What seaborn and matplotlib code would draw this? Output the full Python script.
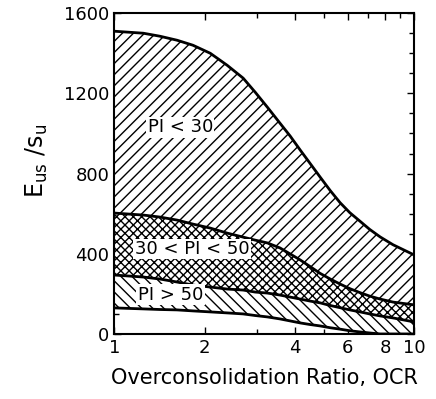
"""Undrained modulus ratio vs overconsolidation ratio, banded by plasticity index."""

import matplotlib

matplotlib.use("Agg")
import matplotlib.pyplot as plt
from matplotlib.ticker import FixedLocator, MultipleLocator, NullFormatter
import pandas as pd
import seaborn as sns

# values
ocr = [1.0, 1.25, 1.42, 1.62, 1.83, 2.09, 2.38, 2.69, 2.95, 3.24, 3.57, 3.86,
       4.17, 4.5, 4.86, 5.25, 5.66, 6.1, 6.6, 7.1, 7.7, 8.5, 10.0]
curve_top = [1510, 1500, 1485, 1465, 1440, 1400, 1340, 1276, 1206, 1131, 1051, 987,
             917, 850, 782, 715, 655, 605, 562, 522, 484, 445, 394]
curve_pi30 = [603, 593, 583, 568, 548, 528, 503, 483, 468, 454, 429, 399,
              369, 336, 302, 274, 249, 226, 206, 189, 174, 159, 145]
curve_pi50 = [294, 284, 274, 259, 244, 234, 224, 219, 209, 204, 194, 184,
              174, 164, 155, 142, 131, 120, 110, 100, 90, 80, 60]
curve_bottom = [130, 125, 122, 120, 115, 110, 105, 100, 92, 85, 75, 65,
                55, 47, 40, 31, 24, 16, 10, 5, 0, 0, 0]

x_tick_values = [1, 2, 4, 6, 8, 10]
x_tick_labels = ["1", "2", "4", "6", "8", "10"]
y_tick_values = [0, 400, 800, 1200, 1600]

band_labels = ["PI < 30", "30 < PI < 50", "PI > 50"]
band_label_pos = [(1.66, 1030), (1.82, 424), (1.54, 196)]

sns.set_style("ticks")
plt.rcParams["font.family"] = ["DejaVu Sans"]
plt.rcParams["hatch.linewidth"] = 1.0
plt.rcParams["xtick.direction"] = "in"
plt.rcParams["ytick.direction"] = "in"
for key in ("text.color", "axes.labelcolor", "xtick.color", "ytick.color", "axes.edgecolor"):
    plt.rcParams[key] = "black"

fig, ax = plt.subplots(figsize=(4.36, 3.99), dpi=100)
fig.subplots_adjust(left=0.262, right=0.950, bottom=0.163, top=0.967)

bands = [
    (curve_pi30, curve_top, "///"),
    (curve_pi50, curve_pi30, "xxxx"),
    (curve_bottom, curve_pi50, "\\\\\\"),
]
for lower, upper, hatch in bands:
    ax.fill_between(
        ocr, lower, upper, facecolor="white", edgecolor="black", hatch=hatch, linewidth=0
    )

curves = pd.DataFrame(
    {
        "OCR": ocr * 4,
        "ratio": curve_top + curve_pi30 + curve_pi50 + curve_bottom,
        "curve": ["top"] * len(ocr) + ["pi30"] * len(ocr) + ["pi50"] * len(ocr)
        + ["bottom"] * len(ocr),
    }
)
sns.lineplot(
    data=curves,
    x="OCR",
    y="ratio",
    units="curve",
    estimator=None,
    color="black",
    linewidth=2.0,
    ax=ax,
    legend=False,
)

for text, (x, y) in zip(band_labels, band_label_pos):
    ax.text(
        x, y, text, fontsize=13, ha="center", va="center",
        bbox=dict(facecolor="white", edgecolor="none", pad=1.0),
    )

ax.set_xscale("log")
ax.set_xlim(1, 10)
ax.set_ylim(0, 1600)
ax.xaxis.set_major_locator(FixedLocator(x_tick_values))
ax.set_xticklabels(x_tick_labels)
ax.xaxis.set_minor_locator(FixedLocator([3, 5, 7, 9]))
ax.xaxis.set_minor_formatter(NullFormatter())
ax.set_yticks(y_tick_values)
ax.yaxis.set_minor_locator(MultipleLocator(100))
ax.tick_params(which="both", top=True, right=True, labelsize=13, width=1.0)
ax.tick_params(which="major", length=5)
ax.tick_params(which="minor", length=3.5)
for spine in ax.spines.values():
    spine.set_linewidth(1.5)

ax.set_xlabel("Overconsolidation Ratio, OCR", fontsize=15, labelpad=8)
ax.set_ylabel(r"$\mathregular{E_{us}\ /s_u}$", fontsize=17, labelpad=10)
ax.yaxis.set_label_coords(-0.215, 0.54)

fig.savefig("out.png", dpi=100)
